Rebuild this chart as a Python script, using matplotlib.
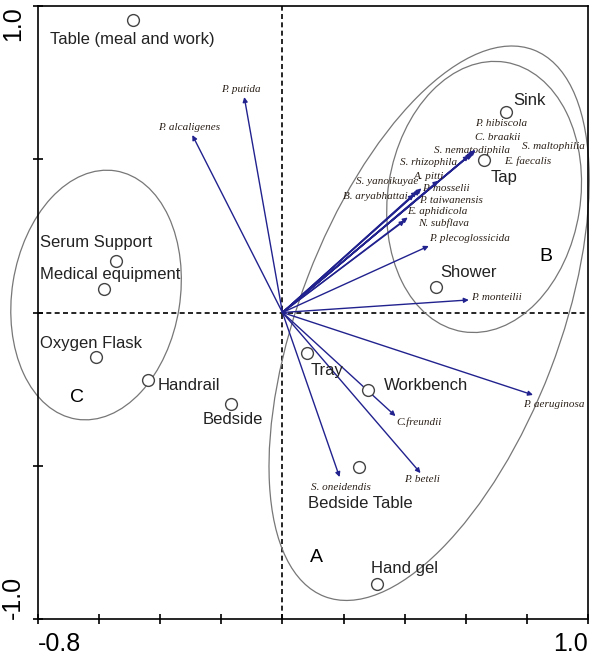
import numpy as np
import matplotlib
matplotlib.use("Agg")
import matplotlib.pyplot as plt
from matplotlib.patches import Ellipse

plt.rcParams['font.family'] = 'Liberation Sans'

# sampling sites (circles)
sites = ['Table (meal and work)', 'Sink', 'Tap', 'Shower', 'Serum Support',
         'Medical equipment', 'Oxygen Flask', 'Handrail', 'Bedside', 'Tray',
         'Workbench', 'Bedside Table', 'Hand gel']
site_x = [-0.49, 0.731, 0.659, 0.502, -0.544, -0.584, -0.61, -0.439, -0.17,
          0.079, 0.279, 0.252, 0.311]
site_y = [0.954, 0.654, 0.498, 0.083, 0.168, 0.077, -0.145, -0.22, -0.298,
          -0.132, -0.253, -0.504, -0.886]
site_lx = [-0.76, 0.754, 0.682, 0.518, -0.793, -0.793, -0.793, -0.41, -0.26,
           0.092, 0.331, 0.082, 0.289]
site_ly = [0.89, 0.693, 0.442, 0.132, 0.227, 0.125, -0.1, -0.237, -0.35,
           -0.188, -0.237, -0.622, -0.834]

# species vectors
species = ['S. nematodiphila', 'C. braakii', 'P. hibiscola', 'S. maltophilia',
           'E. faecalis', 'S. rhizophila', 'A. pitti', 'P. mosselii',
           'S. yanoikuyae', 'B. aryabhattai', 'P. taiwanensis', 'E. aphidicola',
           'N. subflava', 'P. plecoglossicida', 'P. monteilii', 'P. aeruginosa',
           'C.freundii', 'P. beteli', 'S. oneidendis', 'P. putida',
           'P. alcaligenes']
sp_x = [0.623, 0.628, 0.618, 0.632, 0.62, 0.61, 0.45, 0.455, 0.44, 0.43,
        0.51, 0.40, 0.41, 0.479, 0.61, 0.82, 0.37, 0.452, 0.187, -0.125,
        -0.295]
sp_y = [0.522, 0.527, 0.517, 0.53, 0.518, 0.512, 0.40, 0.405, 0.395, 0.385,
        0.43, 0.30, 0.31, 0.217, 0.041, -0.269, -0.338, -0.524, -0.537,
        0.703, 0.579]
sp_lx = [0.495, 0.63, 0.63, 0.784, 0.725, 0.384, 0.43, 0.456, 0.24, 0.197,
         0.446, 0.407, 0.443, 0.479, 0.616, 0.787, 0.374, 0.397, 0.092,
         -0.2, -0.407]
sp_ly = [0.53, 0.572, 0.618, 0.54, 0.494, 0.488, 0.445, 0.406, 0.426, 0.38,
         0.367, 0.328, 0.292, 0.243, 0.05, -0.299, -0.357, -0.546, -0.57,
         0.729, 0.605]

# groups
groups = ['A', 'B', 'C']
grp_x = [0.089, 0.84, -0.695]
grp_y = [-0.798, 0.184, -0.276]

fig = plt.figure(figsize=(6, 6.56), dpi=100)
ax = fig.add_axes([38/600, 1 - 619/656, 550/600, 613/656])
ax.set_xlim(-0.8, 1.0)
ax.set_ylim(-1.0, 1.0)

ax.axhline(0, color='black', ls=(0, (3, 2)), lw=1.2, zorder=1)
ax.axvline(0, color='black', ls=(0, (3, 2)), lw=1.2, zorder=1)

# group ellipses
ell_c = Ellipse((-0.61, 0.057), 0.55, 0.82, angle=-9, fill=False,
                edgecolor='#777777', lw=0.9, clip_on=False)
ell_b = Ellipse((0.66, 0.377), 0.63, 0.89, angle=-9, fill=False,
                edgecolor='#777777', lw=0.9, clip_on=False)
ell_a = Ellipse((0.48, -0.035), 0.85, 1.91, angle=-21, fill=False,
                edgecolor='#777777', lw=0.9, clip_on=False)
for e in (ell_a, ell_b, ell_c):
    ax.add_patch(e)

arrow_col = '#22228f'
for i in range(len(species)):
    ax.annotate('', xy=(sp_x[i], sp_y[i]), xytext=(0, 0),
                arrowprops=dict(arrowstyle='-|>', color=arrow_col, lw=1.0,
                                mutation_scale=7, shrinkA=0, shrinkB=0))
    ax.text(sp_lx[i], sp_ly[i], species[i], fontsize=8, style='italic',
            family='Liberation Serif', color='#2a2018', ha='left', va='center')

ax.plot(site_x, site_y, 'o', ms=8.5, mfc='white', mec='#444444', mew=1.0,
        zorder=5)
for i in range(len(sites)):
    ax.text(site_lx[i], site_ly[i], sites[i], fontsize=12, color='#222222',
            ha='left', va='center')

for i in range(len(groups)):
    ax.text(grp_x[i], grp_y[i], groups[i], fontsize=14, color='black',
            ha='left', va='center')

ax.set_xticks(np.arange(-0.8, 1.01, 0.2))
ax.set_xticklabels(['-0.8'] + [''] * 8 + ['1.0'])
ax.set_yticks([-1.0, -0.5, 0, 0.5, 1.0])
ax.set_yticklabels(['-1.0', '', '', '', '1.0'], rotation=90)
ax.tick_params(direction='inout', length=7, width=1.2, labelsize=18, pad=6)
xl = ax.get_xticklabels()
xl[0].set_ha('left')
xl[-1].set_ha('right')
yl = ax.get_yticklabels()
yl[0].set_va('bottom')
yl[-1].set_va('top')
for s in ax.spines.values():
    s.set_linewidth(1.2)

fig.savefig('out.png', dpi=100)
